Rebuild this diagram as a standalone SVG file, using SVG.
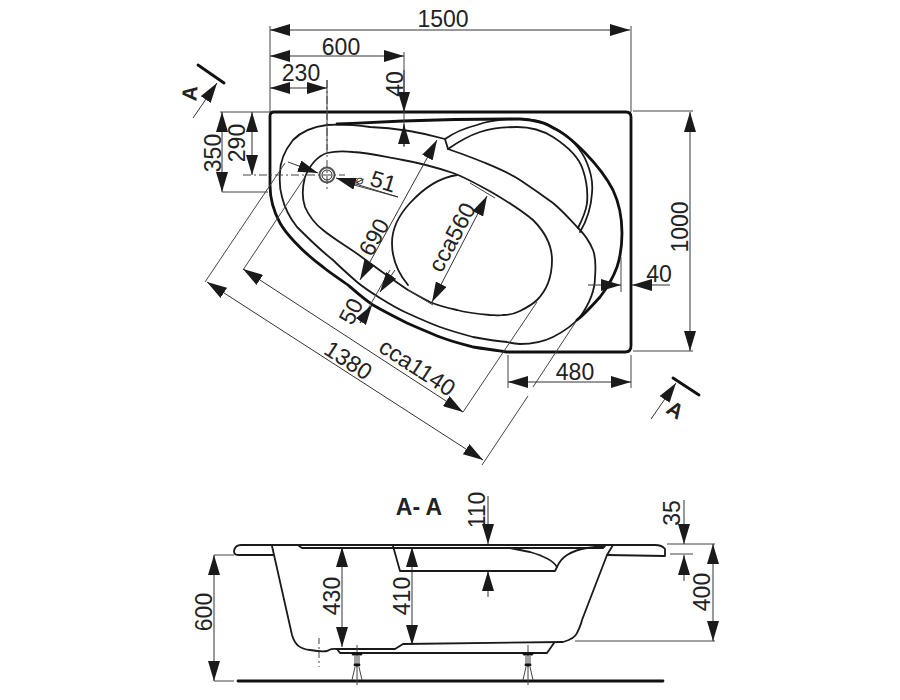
<svg xmlns="http://www.w3.org/2000/svg" width="900" height="700" viewBox="0 0 900 700">
<style>
.o{fill:none;stroke:#1a1a1a;stroke-width:1.8;stroke-linecap:round;stroke-linejoin:round}
.t{fill:none;stroke:#111;stroke-width:2.8;stroke-linecap:round;stroke-linejoin:round}
.d{fill:none;stroke:#444;stroke-width:1}
.a{fill:none;stroke:#333;stroke-width:1;marker-start:url(#ah);marker-end:url(#ah)}
.e{fill:none;stroke:#333;stroke-width:1;marker-end:url(#ah)}
.l{font-family:"Liberation Sans",Arial,sans-serif;font-size:23px;fill:#222;text-anchor:middle}
.b{font-weight:bold}
</style>
<defs>
<marker id="ah" markerUnits="userSpaceOnUse" markerWidth="20" markerHeight="12" viewBox="0 0 20 12" refX="20" refY="6" orient="auto-start-reverse"><path d="M0 0L20 6L0 12Z" fill="#1a1a1a"/></marker>
</defs>
<rect width="900" height="700" fill="#fff"/>
<g id="plan">
<path class="t" d="M507 352C495 350 485 349 473 347C462 344 450 341 440 337C428 332 418 328 407 323C395 317 385 312 373 305C365 300 356 292 348 285C340 279 330 273 323 267C300 250 285 232 280 223C274 212 270 200 270 185V116Q270 112 274 112H626Q631 112 631 117V346Q631 352 625 352H507"/>
<path class="o" d="M445 139C420 132 395 128 370 127C355 125 340 124 327 125C310 127 300 133 293 140C285 150 280 162 280 173C279 185 280 190 282 197C285 210 290 218 297 227C310 240 320 250 333 260C340 267 349 275 357 282C364 288 372 293 380 298C388 303 398 309 407 313C418 318 429 323 440 327C451 331 462 334 473 337C484 339 496 341 507 342C511 343 515 344 520 344C530 344 543 342 553 337C565 331 573 325 580 317C590 303 595 290 595 277C596 265 596 258 593 250C590 243 586 236 580 230C570 220 565 213 553 203C542 195 532 188 520 180C510 173 495 167 483 162C470 157 460 153 448 149L445 139"/>
<path class="o" d="M445 139C455 132 465 128 477 125C490 120 505 119 520 119C530 119 543 122 553 127C570 136 582 150 587 163C592 175 593 183 592 193C591 210 586 222 580 232"/>
<path class="o" d="M448 149C458 142 468 136 480 132C492 128 505 127 517 127C530 127 542 130 553 137C570 148 580 160 583 170C587 182 588 192 587 203C586 212 582 220 578 228"/>
<path class="t" d="M337 124C360 123 385 122 403 121C430 120 470 119 520 119C535 120 545 122 553 128C570 135 600 165 613 190C620 205 622 220 622 233C622 245 620 258 617 267C613 278 607 288 600 297C592 306 585 314 577 320"/>
<path class="o" d="M305 177C310 165 318 156 327 153C335 151 345 151 353 152C370 153 385 157 403 160C420 163 438 168 453 173C467 178 480 186 493 193C510 203 522 211 533 220C545 232 552 245 552 260C552 277 547 290 537 300C532 305 526 308 520 311C514 314 509 315 503 315C499 316 494 315 490 315C479 314 468 313 457 310C448 308 439 306 430 302C422 298 415 294 408 290C393 280 378 269 363 258C350 248 335 240 323 230C315 224 309 216 305 207C302 198 302 188 305 177Z"/>
<path class="o" d="M457 175C437 178 422 190 410 203C398 216 392 230 392 243C392 258 398 273 408 285"/>
<circle cx="327" cy="175" r="7.5" fill="#fff" stroke="#555" stroke-width="2"/>
<circle cx="327" cy="175" r="5" fill="none" stroke="#222" stroke-width="1"/>
<path class="d" stroke-dasharray="8 3 2 3" d="M243 175H345M327 80V192"/>
</g>
<g id="connectors">
<path class="d" d="M270 26V112M631 26V112M404 52V147M327 80V150M470 183L495 198M408 290L433 305M220 112H270M222 192H268M633 111H693M633 351H693M508 355V388M631 355V388M621 257V292M285 163L205 282M305 177L243 270M537 302L463 412M575 323L533 387M528 396L482 465M354 185L398 197M390 270L360 323"/>
<path class="a" d="M270 30H630"/>
<path class="a" d="M270 56H404"/>
<path class="a" d="M270 88H327"/>
<path class="e" d="M404 70V112"/>
<path class="e" d="M404 146V124"/>
<path class="a" d="M222 112V192"/>
<path class="a" d="M252 112V175"/>
<path class="e" d="M288 162L318 173"/>
<path class="e" d="M398 197L336 178"/>
<path class="a" d="M437 140L360 280"/>
<path class="a" d="M487 196L432 302"/>
<path class="e" d="M395 270L380 292"/>
<path class="e" d="M360 323L372 305"/>
<path class="a" d="M207 282L483 460"/>
<path class="a" d="M243 269L463 412"/>
<path class="e" d="M588 285H621"/>
<path class="e" d="M670 285H632"/>
<path class="a" d="M690 112V351"/>
<path class="a" d="M508 382H631"/>
<path class="e" d="M193 118L217 83"/>
<path class="e" d="M651 419L676 383"/>
<path class="d" d="M234 555H214M234 681H214M667 544H715M575 641H715M670 554H693"/>
<path class="a" d="M214 555V681"/>
<path class="a" d="M342 547V647"/>
<path class="a" d="M412 547V645"/>
<path class="e" d="M488 496V544"/>
<path class="e" d="M488 597V571"/>
<path class="e" d="M684 500V544"/>
<path class="e" d="M684 581V555"/>
<path class="a" d="M713 544V641"/>
</g>
<g id="section-marks">
<path class="t" d="M198 65L224 83M673 378L699 395"/>
<text class="l b" style="font-size:21px" transform="translate(197 94) rotate(-85)">A</text>
<text class="l b" style="font-size:21px" transform="translate(671.5 416) rotate(32)">A</text>
</g>
<g id="section">
<path class="o" d="M272 546L292 635C295 645 300 649 310 650C316 651 322 652 327 651C330 650 330 648 337 649H395L403 644L563 642C570 640 575 638 577 633C579 629 581 625 582 620L607 555L613 545"/>
<path class="o" d="M273 555H238Q234 555 234 551Q235 545 241 545H655Q662 545 665 549V556L607 555"/>
<path class="o" d="M299 546L302 548H603L605 546"/>
<path class="o" d="M337 649L340 653H547L554 643"/>
<path class="o" d="M393 546L400 571L555 571L557 567C553 560 544 556 530 552C520 550 515 549 510 548"/>
<path class="o" d="M557 567C560 560 564 557 567 555C572 552 580 549 587 548L603 546"/>
<path class="t" d="M238 681H663"/>
<g id="foot-left"><path class="d" d="M357 645V685M355 667L352 680M359 667L362 680M355 656V665M359 656V665"/><path class="t" d="M353 654H361M355 665H359"/></g>
<g id="foot-right"><path class="d" d="M528 645V685M526 667L523 680M530 667L533 680M526 656V665M530 656V665"/><path class="t" d="M524 654H532M526 665H530"/></g>
<path class="d" stroke-dasharray="6 3 2 3" d="M319 638V667"/>
</g>
<g id="labels">
<text class="l" x="443" y="27">1500</text>
<text class="l" x="341" y="55">600</text>
<text class="l" x="301" y="81">230</text>
<text class="l" transform="translate(403 84) rotate(-90)">40</text>
<text class="l" transform="translate(221 153) rotate(-90)">350</text>
<text class="l" transform="translate(245 143) rotate(-90)">290</text>
<text class="l" style="font-size:13px" transform="translate(359 184) rotate(17)">⌀</text>
<text class="l" transform="translate(381 189) rotate(17)">51</text>
<text class="l" transform="translate(381 241) rotate(-61)">690</text>
<text class="l" transform="translate(459 241) rotate(-62)">cca560</text>
<text class="l" transform="translate(358 315) rotate(-62)">50</text>
<text class="l" transform="translate(413 374) rotate(33)">cca1140</text>
<text class="l" transform="translate(344 367) rotate(33)">1380</text>
<text class="l" x="659" y="282">40</text>
<text class="l" transform="translate(688 227) rotate(-90)">1000</text>
<text class="l" x="575" y="380">480</text>
<text class="l b" x="419" y="515">A- A</text>
<text class="l" transform="translate(212 612) rotate(-90)">600</text>
<text class="l" transform="translate(340 596) rotate(-90)">430</text>
<text class="l" transform="translate(410 596) rotate(-90)">410</text>
<text class="l" transform="translate(485 510) rotate(-90)">110</text>
<text class="l" transform="translate(680 513) rotate(-90)">35</text>
<text class="l" transform="translate(710 592) rotate(-90)">400</text>
</g>
</svg>
